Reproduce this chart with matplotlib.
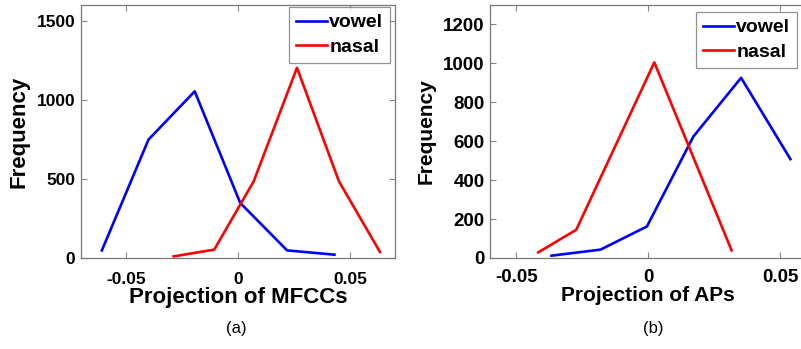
import matplotlib
matplotlib.use("Agg")
import matplotlib.pyplot as plt

plt.rcParams['font.family'] = ['Liberation Sans', 'DejaVu Sans']

# panel (a): projection of MFCCs
mfcc_vowel_x = [-0.0607, -0.0399, -0.0193, 0.001, 0.0219, 0.043]
mfcc_vowel_y = [48, 749, 1054, 348, 48, 21]
mfcc_nasal_x = [-0.0287, -0.0106, 0.007, 0.0263, 0.045, 0.0633]
mfcc_nasal_y = [10, 53, 485, 1203, 485, 38]

# panel (b): projection of APs
ap_vowel_x = [-0.0367, -0.0181, -0.0005, 0.0171, 0.0352, 0.0539]
ap_vowel_y = [12, 43, 162, 624, 926, 508]
ap_nasal_x = [-0.0417, -0.0273, 0.0023, 0.0316]
ap_nasal_y = [29, 145, 1005, 39]

W, H = 801, 349
fig = plt.figure(figsize=(W / 100, H / 100), dpi=100)

def setup(ax, xlim, ylim, yticks, xlabel, fs, lfs, xpad):
    ax.set_xlim(*xlim)
    ax.set_ylim(*ylim)
    ax.set_xticks([-0.05, 0, 0.05])
    ax.set_xticklabels(['-0.05', '0', '0.05'])
    ax.set_yticks(yticks)
    ax.tick_params(direction='in', top=True, right=True, length=4, width=0.8,
                   color='#888888', labelsize=fs)
    ax.tick_params(axis='x', pad=xpad)
    ax.tick_params(axis='y', pad=4)
    for lab in ax.get_xticklabels() + ax.get_yticklabels():
        lab.set_fontweight('bold')
    for s in ax.spines.values():
        s.set_color('#777777')
        s.set_linewidth(0.9)
    ax.set_xlabel(xlabel, fontsize=lfs, fontweight='bold', labelpad=0)
    ax.set_ylabel('Frequency', fontsize=lfs, fontweight='bold', labelpad=5)

def add_legend(ax, right, top):
    leg = ax.legend(loc='upper right', bbox_to_anchor=(right / W, 1 - top / H),
                    bbox_transform=fig.transFigure, borderaxespad=0,
                    prop={'weight': 'bold', 'size': 14}, fancybox=False,
                    handlelength=1.6, handletextpad=0.1, borderpad=0.35,
                    labelspacing=0.35)
    leg.get_frame().set_edgecolor('#777777')
    leg.get_frame().set_linewidth(0.9)
    return leg

ax1 = fig.add_axes([81 / W, 91 / H, 314 / W, 253 / H])
ax1.plot(mfcc_vowel_x, mfcc_vowel_y, color='#0000ff', lw=1.9, label='vowel')
ax1.plot(mfcc_nasal_x, mfcc_nasal_y, color='#ff0000', lw=1.9, label='nasal')
setup(ax1, (-0.07, 0.07), (0, 1600), [0, 500, 1000, 1500], 'Projection of MFCCs', 12.5, 16, 10)
add_legend(ax1, 390, 7)

ax2 = fig.add_axes([490 / W, 91 / H, 316.5 / W, 253 / H])
ax2.plot(ap_vowel_x, ap_vowel_y, color='#0000ff', lw=1.9, label='vowel')
ax2.plot(ap_nasal_x, ap_nasal_y, color='#ff0000', lw=1.9, label='nasal')
setup(ax2, (-0.06, 0.06), (0, 1300), [0, 200, 400, 600, 800, 1000, 1200], 'Projection of APs', 13.5, 15, 8)
add_legend(ax2, 797, 12)

fig.text(236 / W, 1 - 328 / H, '(a)', ha='center', va='center', fontsize=12)
fig.text(653 / W, 1 - 328 / H, '(b)', ha='center', va='center', fontsize=12)

fig.savefig('out.png', dpi=100)
